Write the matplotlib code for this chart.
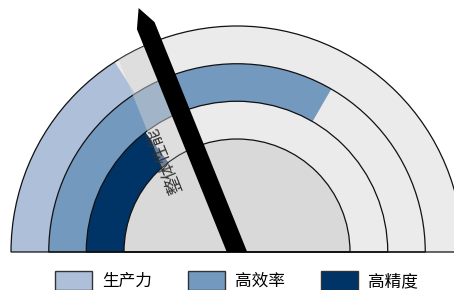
import numpy as np
import matplotlib
matplotlib.use('Agg')
import matplotlib.pyplot as plt
from matplotlib.patches import Wedge, Polygon, Rectangle, Patch

plt.rcParams['font.family'] = ['Noto Sans CJK SC', 'DejaVu Sans']

# data (value 0-100 spread over the half circle, 0 at left)
categories = ['生产力', '高效率', '高精度']
values = [31.8, 66.7, 29.2]
colors = ['#adbfd9', '#7399bf', '#003366']
needle_label = '整体性能'
needle_value = 37.8

# ring radii, outer ring first
ring_outer = [1.0, 0.833, 0.667]
ring_width = 0.167
hub_radius = 0.5


def to_angle(v):
    return 180 - v * 1.8


fig = plt.figure(figsize=(4.54, 2.9), dpi=100)
ax = fig.add_axes([0, 0, 1, 1])
ax.set_xlim(-237 / 226, 217 / 226)
ax.set_ylim(-38 / 226, 252 / 226)
ax.axis('off')

# hub and grey tracks
ax.add_patch(Wedge((0, 0), hub_radius, 0, 180, facecolor='#d9d9d9', edgecolor='none'))
for r in ring_outer:
    ax.add_patch(Wedge((0, 0), r, 0, 180, width=ring_width,
                       facecolor='#ebebeb', edgecolor='none'))

# coloured arcs
for r, v, c in zip(ring_outer, values, colors):
    ax.add_patch(Wedge((0, 0), r, to_angle(v), 180, width=ring_width,
                       facecolor=c, edgecolor='none'))

# outlines on top
for r in ring_outer + [hub_radius]:
    ax.add_patch(Wedge((0, 0), r, 0, 180, facecolor='none',
                       edgecolor='#111111', linewidth=0.9))

# needle direction
ang = np.radians(to_angle(needle_value))
a = np.array([np.cos(ang), np.sin(ang)])
n = np.array([np.cos(ang + np.pi / 2), np.sin(ang + np.pi / 2)])


def local(pts):
    return np.array([u * a + v * n for u, v in pts])


# translucent band beside the needle, kept inside the rings
band = Polygon(local([(0, 0), (1.3, 0), (1.3, 0.168), (0, 0.168)]),
               facecolor='#d2d2d2', edgecolor='none', alpha=0.5)
ax.add_patch(band)
band.set_clip_path(Wedge((0, 0), 1.0, 0, 180, width=0.5, transform=ax.transData))

# needle
L, w, t = 1.164, 0.042, 0.084
needle = Polygon(local([(-0.1, -w), (L - t, -w), (L, 0), (L - t, w), (-0.1, w)]),
                 facecolor='black', edgecolor='none')
ax.add_patch(needle)
needle.set_clip_path(Rectangle((-2, 0), 4, 2, transform=ax.transData))

tx, ty = 0.497 * a + 0.145 * n
ax.text(tx, ty, needle_label, rotation=np.degrees(ang), rotation_mode='anchor',
        ha='center', va='center', fontsize=12.5, color='#333333')

handles = [Patch(facecolor=c, edgecolor='#333333', linewidth=1) for c in colors]
fig.legend(handles, categories, loc='center', bbox_to_anchor=(0.521, 1 - 280.5 / 290),
           ncol=3, frameon=False, fontsize=12, handlelength=2.2, handleheight=1.4,
           handletextpad=0.6, columnspacing=2.2, borderpad=0)

fig.savefig('out.png', dpi=100)
